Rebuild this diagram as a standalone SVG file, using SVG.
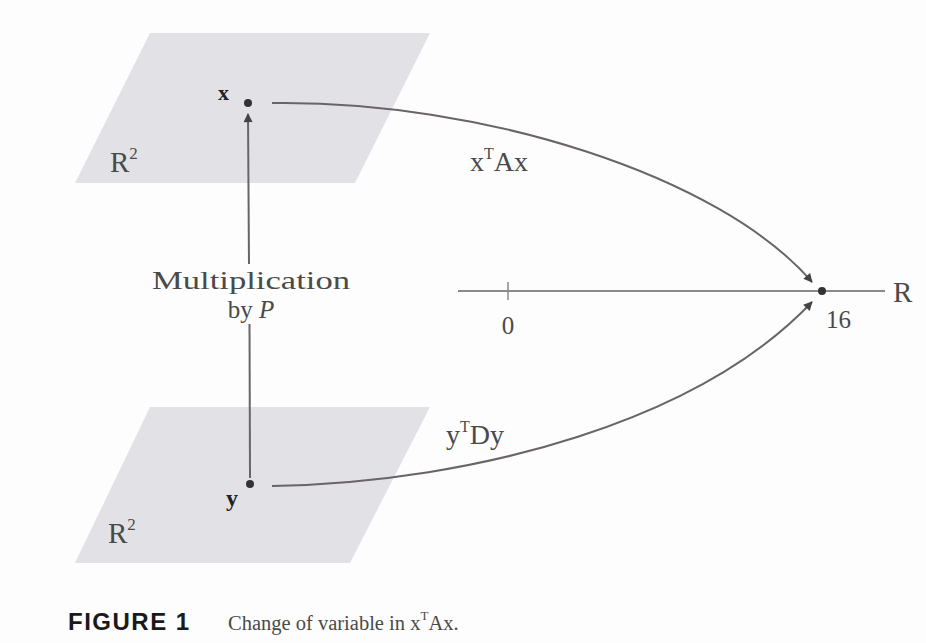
<svg xmlns="http://www.w3.org/2000/svg" width="926" height="643" viewBox="0 0 926 643">
<defs>
<style>
.plane{fill:#e2e2e6;}
.lbl{font-family:"Liberation Serif","Times New Roman",serif;fill:#4a4a4a;}
.bold{font-weight:bold;fill:#222;}
.conn{fill:none;stroke:#6a6468;stroke-width:2;}
.dot{fill:#333;}
</style>
<marker id="ah" viewBox="0 0 10 10" refX="9" refY="5" markerWidth="10" markerHeight="9" markerUnits="userSpaceOnUse" orient="auto">
<path d="M0,0 L10,5 L0,10 z" fill="#444"/>
</marker>
</defs>
<rect width="926" height="643" fill="#fdfdfd"/>

<g id="plane-top">
<polygon class="plane" points="150,33 430,33 355,183 75,183"/>
<text class="lbl" x="110" y="172" font-size="29">R<tspan font-size="17" dy="-13">2</tspan></text>
</g>
<g id="plane-bottom">
<polygon class="plane" points="150,407 430,407 350,563 75,563"/>
<text class="lbl" x="108" y="543" font-size="29">R<tspan font-size="17" dy="-13">2</tspan></text>
</g>

<g id="node-x">
<circle class="dot" cx="248" cy="103" r="4"/>
<text class="lbl bold" x="218" y="100" font-size="22">x</text>
</g>
<g id="node-y">
<circle class="dot" cx="250" cy="484" r="4"/>
<text class="lbl bold" x="226" y="506" font-size="24">y</text>
</g>

<g id="number-line">
<line x1="458" y1="291" x2="885" y2="291" stroke="#8a8a8a" stroke-width="2"/>
<line x1="508" y1="282" x2="508" y2="300" stroke="#8a8a8a" stroke-width="1.5"/>
<text class="lbl" x="508" y="334" font-size="25" text-anchor="middle">0</text>
<circle class="dot" cx="822" cy="291" r="4"/>
<text class="lbl" x="826" y="328" font-size="25">16</text>
<text class="lbl" x="893" y="302" font-size="29">R</text>
</g>

<g id="label-mult">
<text class="lbl" x="152" y="289" font-size="25" textLength="198" lengthAdjust="spacingAndGlyphs">Multiplication</text>
<text class="lbl" x="251" y="318" font-size="25" text-anchor="middle">by <tspan font-style="italic">P</tspan></text>
</g>

<g id="connectors">
<line class="conn" x1="250" y1="478" x2="249.5" y2="324"/>
<line class="conn" x1="249" y1="264" x2="248" y2="114" marker-end="url(#ah)"/>
<path class="conn" d="M272,103 C480,100 720,175 812,282" marker-end="url(#ah)"/>
<path class="conn" d="M272,486 C480,482 700,420 812,302" marker-end="url(#ah)"/>
<text class="lbl" x="470" y="171" font-size="28">x<tspan font-size="16" dy="-12">T</tspan><tspan dy="12">Ax</tspan></text>
<text class="lbl" x="446" y="444" font-size="28">y<tspan font-size="16" dy="-12">T</tspan><tspan dy="12">Dy</tspan></text>
</g>

<g id="caption">
<text x="68" y="630" font-family="'Liberation Sans','Noto Sans',sans-serif" font-weight="bold" font-size="24" letter-spacing="1.5" fill="#1a1a1a">FIGURE 1</text>
<text class="lbl" x="228" y="630" font-size="20.5" fill="#555">Change of variable in x<tspan font-size="13" dy="-10">T</tspan><tspan dy="10">Ax.</tspan></text>
</g>
</svg>
